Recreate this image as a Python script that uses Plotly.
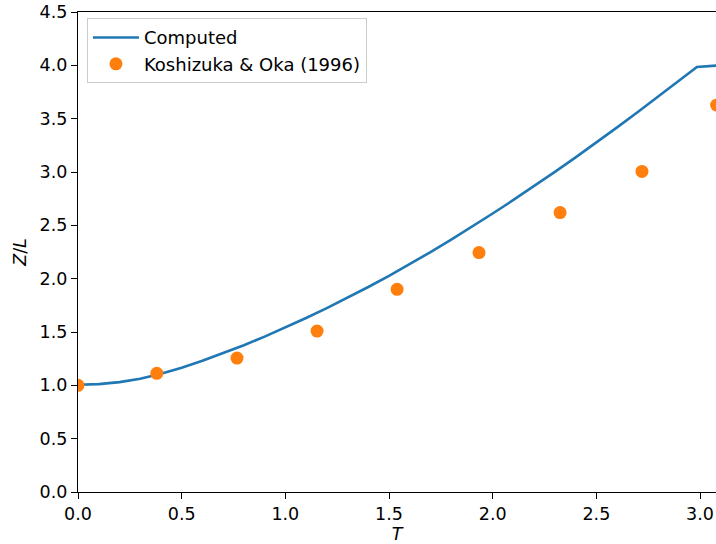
import plotly.graph_objects as go

# Computed free-surface front position Z/L against dimensionless time T
t_computed = [0.0, 0.1, 0.2, 0.3, 0.4, 0.5, 0.6, 0.7, 0.8, 0.9, 1.0,
              1.1, 1.2, 1.3, 1.4, 1.5, 1.6, 1.7, 1.8, 1.9, 2.0,
              2.1, 2.2, 2.3, 2.4, 2.5, 2.6, 2.7, 2.8, 2.9, 2.985, 3.1]
z_computed = [1.005, 1.011, 1.030, 1.062, 1.108, 1.165, 1.230, 1.300, 1.376, 1.457, 1.542,
              1.631, 1.724, 1.821, 1.922, 2.027, 2.136, 2.249, 2.366, 2.487, 2.611,
              2.738, 2.868, 3.001, 3.137, 3.276, 3.418, 3.563, 3.710, 3.859, 3.985, 4.000]

# Reference measurements, Koshizuka & Oka (1996)
t_ref = [0.0, 0.38, 0.767, 1.153, 1.539, 1.934, 2.325, 2.72, 3.08]
z_ref = [1.0, 1.113, 1.256, 1.509, 1.900, 2.245, 2.620, 3.005, 3.627]

x_ticks = [0.0, 0.5, 1.0, 1.5, 2.0, 2.5, 3.0]
y_ticks = [0.0, 0.5, 1.0, 1.5, 2.0, 2.5, 3.0, 3.5, 4.0, 4.5]

FONT = "DejaVu Sans"
FS = 17.5

fig = go.Figure()
fig.add_trace(go.Scatter(
    x=t_computed, y=z_computed, mode="lines", name="Computed",
    line=dict(color="#1f77b4", width=2.6),
))
fig.add_trace(go.Scatter(
    x=t_ref, y=z_ref, mode="markers", name="Koshizuka & Oka (1996)",
    marker=dict(color="#ff7f0e", size=13),
))

axis_common = dict(
    showgrid=False, zeroline=False, showline=True, linecolor="black", linewidth=1.3,
    ticks="outside", ticklen=6, tickwidth=1.3, tickcolor="black",
    tickfont=dict(family=FONT, size=FS, color="black"),
    automargin=False,
)

fig.update_layout(
    width=716, height=544,
    margin=dict(l=78, r=0, t=12, b=52),
    paper_bgcolor="white", plot_bgcolor="white",
    font=dict(family=FONT, size=FS, color="black"),
    showlegend=True,
    legend=dict(
        x=0.014, y=0.987, xanchor="left", yanchor="top",
        bgcolor="rgba(255,255,255,0.8)", bordercolor="#cccccc", borderwidth=1,
        font=dict(family=FONT, size=18, color="black"),
        itemwidth=46, tracegroupgap=0,
    ),
    xaxis=dict(
        range=[0, 3.077], tickvals=x_ticks, ticktext=[f"{v:.1f}" for v in x_ticks],
        mirror=True,
        title=dict(text="<i>T</i>", font=dict(family=FONT, size=FS), standoff=14),
        **axis_common,
    ),
    yaxis=dict(
        range=[0, 4.5], tickvals=y_ticks, ticktext=[f"{v:.1f}" for v in y_ticks],
        title=dict(text="<i>Z</i>/<i>L</i>", font=dict(family=FONT, size=FS), standoff=8),
        **axis_common,
    ),
)

fig.write_html("out.html")
